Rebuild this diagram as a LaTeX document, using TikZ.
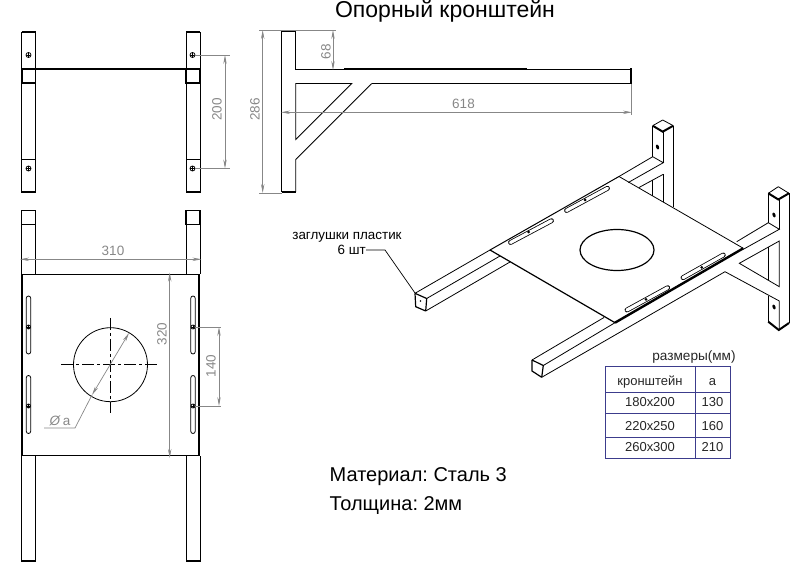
\documentclass[tikz,border=0pt]{standalone}
\usepackage{fontspec}
\setmainfont{Liberation Sans}
\usetikzlibrary{shapes,arrows.meta,positioning}
\definecolor{dimgray}{RGB}{135,135,135}
\definecolor{tablenavy}{RGB}{60,60,140}

\begin{document}
\frenchspacing
\begin{tikzpicture}[x=1pt, y=-1pt,
    edge/.style={draw=black, line width=0.8pt},
    heavy/.style={draw=black, line width=2pt},
    medium/.style={draw=black, line width=1.2pt},
    axisline/.style={draw=black, line width=0.8pt, dash pattern=on 12pt off 3pt on 3pt off 3pt},
    hole/.style={circle, draw=black, line width=0.8pt, inner sep=0pt, minimum size=5pt,
        path picture={\draw[line width=0.8pt] (path picture bounding box.north) -- (path picture bounding box.south)
            (path picture bounding box.west) -- (path picture bounding box.east);}},
    dot/.style={circle, fill=black, inner sep=0pt, minimum size=3pt},
    isohole/.style={ellipse, fill=black, inner sep=0pt, minimum width=3pt, minimum height=5pt, rotate=20},
    extline/.style={draw=dimgray, line width=0.7pt},
    dimline/.style={draw=dimgray, line width=0.7pt, {Stealth[length=9pt,width=3.4pt]}-{Stealth[length=9pt,width=3.4pt]}},
    dimtext/.style={text=dimgray, font=\fontsize{13.5}{15}\selectfont, inner sep=0pt},
    slotouter/.style={draw=black, line width=4.8pt, line cap=round},
    slotinner/.style={draw=white, line width=3.2pt, line cap=round},
    note/.style={font=\fontsize{13.4}{15}\selectfont, inner sep=0pt},
    cell/.style={font=\fontsize{13}{15}\selectfont, inner sep=0pt, text=black!85},
    bigtext/.style={font=\fontsize{20}{22}\selectfont, inner sep=0pt, anchor=west},
    tableline/.style={draw=tablenavy, line width=1pt}
]
\useasboundingbox (0,0) rectangle (793,569);

% Title
\node[font=\fontsize{23}{25}\selectfont, inner sep=0pt, anchor=base] (title) at (445,17.5) {Опорный кронштейн};

% TOP LEFT view - two posts and cross bar
\draw[edge] (21.5,32) rectangle (35.5,192);
\draw[edge] (186,32) rectangle (200,192);
\draw[heavy] (21.5,32) -- (35.5,32);
\draw[heavy] (21.5,192) -- (35.5,192);
\draw[heavy] (186,32) -- (200,32);
\draw[heavy] (186,192) -- (200,192);
\draw[medium] (22,69) rectangle (35.5,83);
\draw[medium] (186,69) rectangle (200,83);
\draw[heavy] (35.5,69) -- (186,69);
\draw[edge] (21.5,159.5) -- (35.5,159.5);
\draw[edge] (186,159.5) -- (200,159.5);
\node[hole] (hole_tl_a) at (28.5,55) {};
\node[hole] (hole_tl_b) at (28.5,168.5) {};
\node[hole] (hole_tr_a) at (192.5,55) {};
\node[hole] (hole_tr_b) at (192.5,168.5) {};

% dimension 200
\coordinate (dim200_a) at (225,55);
\coordinate (dim200_b) at (225,168.5);
\draw[extline] (hole_tr_a) -- ++(37,0);
\draw[extline] (hole_tr_b) -- ++(37,0);
\draw[dimline] (dim200_a) -- (dim200_b);
\node[dimtext, rotate=90] (lbl_200) at (217,109.5) {200};

% SIDE view - post, arm and brace
\draw[edge] (295.7,31.5) -- (295.7,69) -- (631,69);
\draw[edge] (295.7,83.5) -- (351.7,83.5) -- (295.7,139.5) -- cycle;
\draw[edge] (371.7,83.5) -- (631,83.5);
\draw[edge] (371.7,83.5) -- (295.7,159.5) -- (295.7,192);
\draw[edge] (281.7,31.5) -- (281.7,192);
\draw[heavy] (281.7,31.5) -- (295.7,31.5);
\draw[heavy] (281.7,192) -- (295.7,192);
\draw[heavy] (344,68.7) -- (527,68.7);
\draw[heavy] (631,68.5) -- (631,84);

% dimensions 286, 68, 618
\draw[extline] (259,30) -- (336,30);
\draw[extline] (259,193) -- (282,193);
\draw[dimline] (262.7,30) -- (262.7,193);
\node[dimtext, rotate=90] (lbl_286) at (255,109.5) {286};
\draw[dimline] (333,30) -- (333,70);
\node[dimtext, rotate=90] (lbl_68) at (326,52) {68};
\draw[extline] (631.5,84) -- (631.5,115);
\draw[dimline] (281,112.3) -- (632,112.3);
\node[dimtext] (lbl_618) at (463.5,104) {618};

% BOTTOM LEFT view - plate on the posts
\draw[edge] (21.5,224.7) -- (21.5,274);
\draw[edge] (35.5,224.7) -- (35.5,274);
\draw[edge] (186,224.7) -- (186,274);
\draw[edge] (200,224.7) -- (200,274);
\draw[medium] (21.5,210.5) rectangle (35.5,224.7);
\draw[medium] (186,210.5) rectangle (200,224.7);
\draw[edge] (22,274) -- (199,274);
\draw[edge] (22,455.7) -- (199,455.7);
\draw[medium] (22,274) -- (22,455.7);
\draw[medium] (199,274) -- (199,455.7);
\draw[edge] (21.5,455.7) -- (21.5,561) -- (35.5,561) -- (35.5,455.7);
\draw[edge] (186,455.7) -- (186,561) -- (200,561) -- (200,455.7);
\draw[heavy] (21.5,561) -- (35.5,561);
\draw[heavy] (186,561) -- (200,561);

% slots in the plate
\draw[edge, rounded corners=2.2pt] (26.3,296) rectangle (30.7,354);
\draw[edge, rounded corners=2.2pt] (26.3,375.5) rectangle (30.7,433.5);
\draw[edge, rounded corners=2.2pt] (190.8,296) rectangle (195.2,354);
\draw[edge, rounded corners=2.2pt] (190.8,375.5) rectangle (195.2,433.5);
\node[hole, minimum size=4pt] (hole_pl_a) at (28.5,327) {};
\node[hole, minimum size=4pt] (hole_pl_b) at (28.5,406) {};
\node[hole, minimum size=4pt] (hole_pr_a) at (193,327) {};
\node[hole, minimum size=4pt] (hole_pr_b) at (193,406) {};

% opening and its axes
\draw[edge] (110.5,364.7) circle (37);
\draw[axisline] (61,364.7) -- (157.5,364.7);
\draw[axisline] (110.5,318) -- (110.5,413);

% dimensions 310, 320, 140 and diameter
\draw[dimline] (20,259.3) -- (201.5,259.3);
\node[dimtext] (lbl_310) at (113,251) {310};
\draw[dimline] (169.7,272.5) -- (169.7,458);
\node[dimtext, rotate=90] (lbl_320) at (162,334) {320};
\draw[extline] (hole_pr_a) -- ++(28,0);
\draw[extline] (hole_pr_b) -- ++(28,0);
\draw[dimline] (219,327) -- (219,406);
\node[dimtext, rotate=90] (lbl_140) at (211,366) {140};
\draw[dimline] (129,333) -- (92,395);
\draw[extline] (92,395) -- (75,428) -- (44,428);
\node[dimtext] (lbl_dia) at (60,420.5) {\textit{Ø}\,a};

% ISOMETRIC view - rear post
\draw[edge] (662.7,120) -- (673.3,125.7);
\draw[edge] (662.7,120) -- (652.7,125.7);
\draw[heavy] (652.7,125.7) -- (662.7,131.7) -- (673.3,125.7);
\draw[edge] (652.7,125.7) -- (652.7,156.7);
\draw[edge] (663.3,131.7) -- (663.3,162.7);
\draw[edge] (673.3,125.7) -- (673.3,207.5);
\draw[edge] (663.3,174.3) -- (663.3,201.7);
\draw[edge] (652.7,180) -- (652.7,195.6);
\node[isohole] (hole_iso_a) at (657.5,147) {};

% rear arm
\draw[edge] (619,176.5) -- (652.7,156.7) -- (663.3,162.7) -- (628.3,182.5);
\draw[edge] (639,187.5) -- (663.3,174.3);

% left end of rear arm, with cap
\draw[medium] (415,293.3) -- (415.7,306.7) -- (425.7,311);
\draw[medium] (425.7,311) -- (426.7,298.5) -- (415,293.3);
\node[dot, minimum size=1.6pt] (cap_dot) at (420.5,301) {};
\draw[edge] (415,293.3) -- (490,250);
\draw[edge] (426.7,298.5) -- (500,256);
\draw[edge] (425.7,311) -- (510,262);

% plate
\draw[edge, line width=1pt] (490,250) -- (619,176.5);
\draw[edge] (619,176.5) -- (743.3,248.3);
\draw[medium] (490,250) -- (615,322.7);
\draw[edge, line width=2.4pt] (615,322.7) -- (743.3,248.3);
\draw[medium] (617,250) ellipse (37 and 20.5);

% slots on the plate
\draw[slotouter] (510.5,242.5) -- (551.5,220.7);
\draw[slotinner] (510.5,242.5) -- (551.5,220.7);
\draw[slotouter] (566.5,210.5) -- (607.5,188.3);
\draw[slotinner] (566.5,210.5) -- (607.5,188.3);
\draw[slotouter] (627,310) -- (667.7,287.7);
\draw[slotinner] (627,310) -- (667.7,287.7);
\draw[slotouter] (683,277.7) -- (723.3,255);
\draw[slotinner] (683,277.7) -- (723.3,255);
\node[dot] (dot_a) at (528.5,232) {};
\node[dot] (dot_b) at (585,200) {};
\node[dot] (dot_c) at (646,299.3) {};
\node[dot] (dot_d) at (701.7,267.3) {};

% front arm, with cap
\draw[medium] (532,360) -- (532,371) -- (541.7,377.3);
\draw[medium] (541.7,377.3) -- (543.3,365.5) -- (532,360);
\draw[edge] (532,360) -- (604,317.5);
\draw[edge] (543.3,365.5) -- (615,322.7);
\draw[edge] (541.7,377.3) -- (725,271.7);
\draw[edge] (725,271.7) -- (779.3,301) -- (779.3,330);

% front post and brace
\draw[edge] (778.3,186.7) -- (789,193.3);
\draw[edge] (778.3,186.7) -- (768.3,193.3);
\draw[heavy] (768.3,193.3) -- (778.3,199.5) -- (789,193.3);
\draw[edge] (768.3,193.3) -- (768.3,222.7);
\draw[edge] (779.3,199.5) -- (779.3,229.3);
\draw[edge] (789,193.3) -- (789,323);
\draw[edge] (736.7,241.7) -- (768.3,222.7) -- (779.3,229.3) -- (743.3,249.3);
\draw[edge] (739.3,263.3) -- (779.3,241) -- (779.3,286.7) -- cycle;
\draw[edge] (768.3,247) -- (768.3,280.5);
\draw[edge] (768.3,295.7) -- (768.3,321.7);
\draw[heavy] (768.3,321.7) -- (778.8,330) -- (789,323);
\node[isohole] (hole_iso_b) at (774,215) {};
\node[isohole] (hole_iso_c) at (774,307) {};

% note on plugs
\node[note] (lbl_plugs) at (347,237.7) {заглушки пластик};
\node[note, anchor=east] (lbl_count) at (366,250) {6 шт};
\coordinate (plug_end) at (415,293);
\draw[edge, line width=0.7pt] (lbl_count.east) -- ++(19,0) -- (plug_end);

% Table of sizes
\node[cell, font=\fontsize{13.6}{15}\selectfont] (lbl_sizes) at (694,356.7) {размеры(мм)};
\draw[tableline] (605.3,366.7) rectangle (730.7,458.3);
\draw[tableline] (695,366.7) -- (695,458.3);
\draw[tableline] (605.3,392.3) -- (730.7,392.3);
\draw[tableline] (605.3,414) -- (730.7,414);
\draw[tableline] (605.3,437.3) -- (730.7,437.3);
\node[cell] (head_name) at (650,381.7) {кронштейн};
\node[cell] (head_a) at (712.5,381.7) {a};
\node[cell] (row1_name) at (650,402) {180x200};
\node[cell] (row1_a) at (712.5,402) {130};
\node[cell] (row2_name) at (650,426) {220x250};
\node[cell] (row2_a) at (712.5,426) {160};
\node[cell] (row3_name) at (650,447.3) {260x300};
\node[cell] (row3_a) at (712.5,447.3) {210};

% Material notes
\node[bigtext] (lbl_material) at (329.5,476.5) {Материал: Сталь 3};
\node[bigtext] (lbl_thick) at (329.5,505.5) {Толщина: 2мм};

\end{tikzpicture}
\end{document}
